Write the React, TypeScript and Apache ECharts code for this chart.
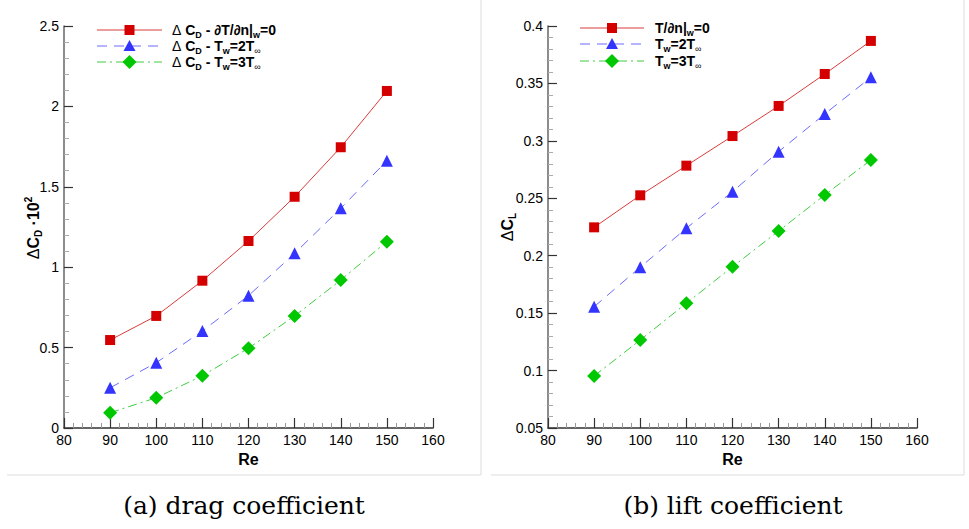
import React, { useEffect, useRef } from "react";
import * as echarts from "echarts";

const reValues = [90, 100, 110, 120, 130, 140, 150];
const dragAdiabatic = [0.547, 0.697, 0.916, 1.163, 1.438, 1.746, 2.096];
const drag2T = [0.25, 0.406, 0.603, 0.823, 1.086, 1.366, 1.662];
const drag3T = [0.095, 0.188, 0.325, 0.496, 0.697, 0.92, 1.159];
const liftAdiabatic = [0.2247, 0.2526, 0.2784, 0.3042, 0.3304, 0.3582, 0.387];
const lift2T = [0.1556, 0.19, 0.2239, 0.2557, 0.2906, 0.3234, 0.3553];
const lift3T = [0.0953, 0.1266, 0.1586, 0.1904, 0.2215, 0.2529, 0.2833];
const captions = ["(a) drag coefficient", "(b) lift coefficient"];

const RED = "#d40000";
const RED_LINE = "#d83c3c";
const BLUE = "#3434ff";
const BLUE_LINE = "#6a6aff";
const GREEN = "#00c800";
const GREEN_LINE = "#40cc40";
const DASH = [10, 7];
const DASHDOT = [9, 4, 2, 4];
const SANS = "Liberation Sans, Arial, sans-serif";

const rich = {
  n: { fontFamily: SANS, fontSize: 14, fontWeight: "bold", color: "#000", lineHeight: 18 },
  d: { fontFamily: SANS, fontSize: 14, fontWeight: "normal", color: "#000", lineHeight: 18 },
  s: { fontFamily: SANS, fontSize: 9, fontWeight: "bold", color: "#000", lineHeight: 6, verticalAlign: "bottom" },
  i: { fontFamily: SANS, fontSize: 9, fontWeight: "normal", color: "#000", lineHeight: 6, verticalAlign: "bottom" },
  p: { fontFamily: SANS, fontSize: 9, fontWeight: "bold", color: "#000", lineHeight: 8, verticalAlign: "top" },
};

const richName = {
  n: { fontFamily: SANS, fontSize: 16, fontWeight: "bold", color: "#000", lineHeight: 20 },
  d: { fontFamily: SANS, fontSize: 16, fontWeight: "normal", color: "#000", lineHeight: 20 },
  s: { fontFamily: SANS, fontSize: 10, fontWeight: "bold", color: "#000", lineHeight: 6, verticalAlign: "bottom" },
  p: { fontFamily: SANS, fontSize: 10, fontWeight: "bold", color: "#000", lineHeight: 8, verticalAlign: "top" },
};

function pairs(ys: number[]) {
  return reValues.map((x, i) => [x, ys[i]]);
}

function marker(kind: string, cx: number, cy: number, color: string): any {
  if (kind === "rect") {
    return { type: "rect", shape: { x: cx - 5, y: cy - 5, width: 10, height: 10 }, style: { fill: color } };
  }
  if (kind === "triangle") {
    return { type: "polygon", shape: { points: [[cx, cy - 6], [cx + 6, cy + 5], [cx - 6, cy + 5]] }, style: { fill: color } };
  }
  return { type: "polygon", shape: { points: [[cx, cy - 7], [cx + 7, cy], [cx, cy + 7], [cx - 7, cy]] }, style: { fill: color } };
}

function legendItem(x0: number, x1: number, y: number, lineColor: string, dash: any, kind: string, color: string, text: string, tx: number): any[] {
  return [
    { type: "line", shape: { x1: x0, y1: y, x2: x1, y2: y }, style: { stroke: lineColor, lineWidth: 1, lineDash: dash } },
    marker(kind, (x0 + x1) / 2, y, color),
    { type: "text", x: tx, y: y, style: { text, rich, verticalAlign: "middle", align: "left" } },
  ];
}

function xAxisCfg(gridIndex: number): any {
  return {
    type: "value",
    gridIndex,
    min: 80,
    max: 160,
    interval: 10,
    name: "Re",
    nameLocation: "middle",
    nameGap: 23,
    nameTextStyle: { fontFamily: SANS, fontSize: 16, fontWeight: "bold", color: "#000" },
    axisLine: { show: true, onZero: false, lineStyle: { color: "#333", width: 1.5 } },
    axisTick: { show: true, inside: true, length: 10, lineStyle: { color: "#333", width: 1.2 } },
    minorTick: { show: true, splitNumber: 5, length: 5, lineStyle: { color: "#999", width: 1 } },
    axisLabel: { fontFamily: SANS, fontSize: 14, color: "#000", margin: 5 },
    splitLine: { show: false },
  };
}

function yAxisCfg(gridIndex: number, min: number, max: number, interval: number, digits: number): any {
  return {
    type: "value",
    gridIndex,
    min,
    max,
    interval,
    axisLine: { show: true, onZero: false, lineStyle: { color: "#707070", width: 1.6 } },
    axisTick: { show: true, inside: true, length: 9, lineStyle: { color: "#333", width: 1.2 } },
    minorTick: { show: true, splitNumber: 5, length: 5, lineStyle: { color: "#aaa", width: 1 } },
    axisLabel: {
      fontFamily: SANS,
      fontSize: 14,
      color: "#000",
      margin: 5,
      formatter: (v: number) => String(parseFloat(v.toFixed(digits))),
    },
    splitLine: { show: false },
  };
}

function seriesCfg(idx: number, data: number[], symbol: string, size: number, color: string, lineColor: string, type: any): any {
  return {
    type: "line",
    xAxisIndex: idx,
    yAxisIndex: idx,
    data: pairs(data),
    symbol,
    symbolSize: size,
    showSymbol: true,
    itemStyle: { color },
    lineStyle: { color: lineColor, width: 1, type },
  };
}

export default function App() {
  const ref = useRef<HTMLDivElement>(null);
  useEffect(() => {
    if (!ref.current) return;
    const chart = echarts.init(ref.current, null, { renderer: "svg" });
    const frameColor = "#dddddd";
    const captionFont = "25px 'DejaVu Serif', 'Liberation Serif', serif";
    const option: any = {
      animation: false,
      backgroundColor: "#ffffff",
      grid: [
        { left: 64, top: 26, width: 369, height: 402 },
        { left: 548, top: 26, width: 369, height: 402 },
      ],
      xAxis: [xAxisCfg(0), xAxisCfg(1)],
      yAxis: [yAxisCfg(0, 0, 2.5, 0.5, 2), yAxisCfg(1, 0.05, 0.4, 0.05, 3)],
      series: [
        seriesCfg(0, dragAdiabatic, "rect", 10, RED, RED_LINE, "solid"),
        seriesCfg(0, drag2T, "triangle", 12, BLUE, BLUE_LINE, DASH),
        seriesCfg(0, drag3T, "diamond", 14, GREEN, GREEN_LINE, DASHDOT),
        seriesCfg(1, liftAdiabatic, "rect", 10, RED, RED_LINE, "solid"),
        seriesCfg(1, lift2T, "triangle", 12, BLUE, BLUE_LINE, DASH),
        seriesCfg(1, lift3T, "diamond", 14, GREEN, GREEN_LINE, DASHDOT),
      ],
      graphic: [
        // panel frames
        { type: "line", shape: { x1: 7, y1: 475, x2: 481, y2: 475 }, style: { stroke: frameColor, lineWidth: 1 } },
        { type: "line", shape: { x1: 481, y1: 0, x2: 481, y2: 475 }, style: { stroke: frameColor, lineWidth: 1 } },
        { type: "line", shape: { x1: 491, y1: 475, x2: 964, y2: 475 }, style: { stroke: frameColor, lineWidth: 1 } },
        { type: "line", shape: { x1: 964, y1: 0, x2: 964, y2: 475 }, style: { stroke: frameColor, lineWidth: 1 } },
        // left legend
        ...legendItem(97, 162, 30, RED_LINE, null, "rect", RED, "{d|Δ }{n|C}{s|D}{n| - ∂T/∂n|}{s|w}{n|=0}", 172),
        ...legendItem(97, 162, 46, BLUE_LINE, DASH, "triangle", BLUE, "{d|Δ }{n|C}{s|D}{n| - T}{s|w}{n|=2T}{i|∞}", 172),
        ...legendItem(97, 162, 62, GREEN_LINE, DASHDOT, "diamond", GREEN, "{d|Δ }{n|C}{s|D}{n| - T}{s|w}{n|=3T}{i|∞}", 172),
        // right legend
        ...legendItem(580, 644, 28, RED_LINE, null, "rect", RED, "{n|T/∂n|}{s|w}{n|=0}", 655),
        ...legendItem(580, 644, 44, BLUE_LINE, DASH, "triangle", BLUE, "{n|T}{s|w}{n|=2T}{i|∞}", 655),
        ...legendItem(580, 644, 61, GREEN_LINE, DASHDOT, "diamond", GREEN, "{n|T}{s|w}{n|=3T}{i|∞}", 655),
        // y axis names
        {
          type: "text",
          x: 33,
          y: 228,
          rotation: Math.PI / 2,
          style: { text: "{d|Δ}{n|C}{s|D}{n| ·10}{p|2}", rich: richName, align: "center", verticalAlign: "middle" },
        },
        {
          type: "text",
          x: 507,
          y: 227,
          rotation: Math.PI / 2,
          style: { text: "{d|Δ}{n|C}{s|L}", rich: richName, align: "center", verticalAlign: "middle" },
        },
        // captions
        {
          type: "text",
          x: 244,
          y: 505,
          style: { text: captions[0], font: captionFont, fill: "#000", align: "center", verticalAlign: "middle" },
        },
        {
          type: "text",
          x: 733,
          y: 505,
          style: { text: captions[1], font: captionFont, fill: "#000", align: "center", verticalAlign: "middle" },
        },
      ],
    };
    chart.setOption(option);
    return () => chart.dispose();
  }, []);
  return <div ref={ref} style={{ position: "fixed", left: 0, top: 0, width: 969, height: 529 }} />;
}
